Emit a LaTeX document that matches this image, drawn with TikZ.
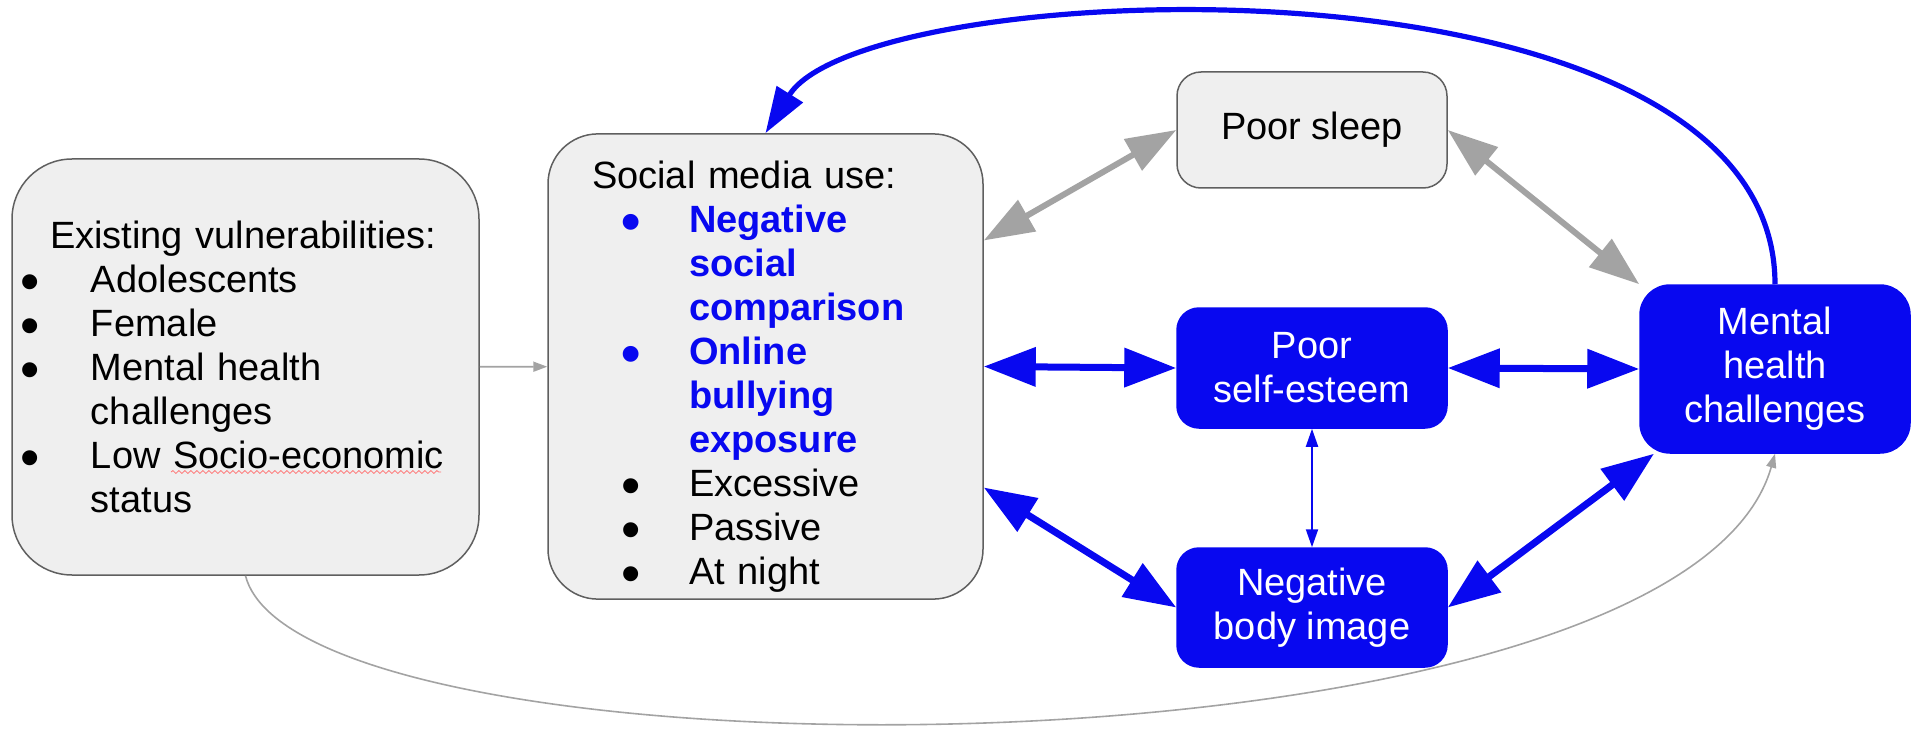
\documentclass[tikz,border=0pt]{standalone}
\usepackage{fontspec}
\usepackage{graphicx}
\setmainfont{Liberation Sans}
\usetikzlibrary{arrows.meta,decorations.pathmorphing}
\definecolor{boxgrey}{RGB}{239,239,239}
\definecolor{edgegrey}{RGB}{95,95,95}
\definecolor{arrowgrey}{RGB}{163,163,163}
\definecolor{linkblue}{RGB}{8,8,240}
\newcommand{\blt}[1]{\makebox[#1][l]{\smash{\raisebox{-4pt}{\scalebox{1.45}{\textbullet}}}}}
\newcommand{\hi}[1]{{\color{linkblue}\bfseries #1}}
\begin{document}
\begin{tikzpicture}[x=0.5pt,y=-0.5pt,
  every node/.style={font=\fontsize{19}{22}\selectfont},
  greybox/.style={draw=edgegrey, line width=0.75pt, fill=boxgrey},
  bluebox/.style={draw=linkblue, line width=0.75pt, fill=linkblue, text=white, align=center, minimum width=135pt},
  bluelink/.style={linkblue, line width=3.5pt, {Triangle[length=26pt,width=19pt]}-{Triangle[length=26pt,width=19pt]}},
  greylink/.style={arrowgrey, line width=3pt, {Triangle[length=25pt,width=17.5pt]}-{Triangle[length=25pt,width=17.5pt]}},
  thinblue/.style={linkblue, line width=1pt, {Triangle[length=9pt,width=6pt]}-{Triangle[length=9pt,width=6pt]}},
  thingrey/.style={arrowgrey, line width=0.8pt, -{Triangle[length=7pt,width=5pt]}},
  loopblue/.style={linkblue, line width=2.6pt, -{Triangle[length=23pt,width=15pt]}}]
\useasboundingbox (0,0) rectangle (1913,733);

\node[greybox, rounded corners=30pt, text width=218.5pt, inner xsep=7.5pt, minimum height=208pt, align=left] (vuln) at (245.5,367) {%
  \hspace*{11.5pt}Existing vulnerabilities:\\
  \hspace*{-3.5pt}\blt{35.5pt}Adolescents\\
  \hspace*{-3.5pt}\blt{35.5pt}Female\\
  \hspace*{-3.5pt}\blt{35.5pt}Mental health\\
  \hspace*{32pt}challenges\\
  \hspace*{-3.5pt}\blt{35.5pt}Low Socio-economic\\
  \hspace*{32pt}status};
\node[greybox, rounded corners=25pt, text width=173.5pt, inner xsep=22pt, minimum height=231.5pt, align=left] (media) at (765.5,366.5) {%
  \rule{0pt}{24pt}Social media use:\\
  \hspace*{14.5pt}\hi{\blt{34pt}Negative}\\
  \hspace*{48.5pt}\hi{social}\\
  \hspace*{48.5pt}\hi{comparison}\\
  \hspace*{14.5pt}\hi{\blt{34pt}Online}\\
  \hspace*{48.5pt}\hi{bullying}\\
  \hspace*{48.5pt}\hi{exposure}\\
  \hspace*{14.5pt}\blt{34pt}Excessive\\
  \hspace*{14.5pt}\blt{34pt}Passive\\
  \hspace*{14.5pt}\blt{34pt}At night};
\node[greybox, rounded corners=12pt, minimum width=135pt, minimum height=58pt] (sleep) at (1312,130) {Poor sleep};
\node[bluebox, rounded corners=11pt, minimum height=60pt] (esteem) at (1312,368) {Poor\\self-esteem};
\node[bluebox, rounded corners=11pt, minimum height=59.5pt] (body) at (1312,607.5) {Negative\\body image};
\node[bluebox, rounded corners=15pt, minimum height=84pt] (mental) at (1775,369) {Mental\\health\\challenges};

\draw[red!55, line width=0.4pt, decorate, decoration={snake, amplitude=0.7pt, segment length=3pt}] (171,472) -- (441,472);

\draw[thingrey] (vuln) -- (media);
\draw[greylink] (media.30) -- (sleep.west);
\draw[greylink] (sleep.east) -- (mental.north west);
\draw[bluelink] (media.east) -- (esteem.west);
\draw[bluelink] (esteem.east) -- (mental.west);
\draw[thinblue] (esteem) -- (body);
\draw[bluelink] (media.-29) -- (body.west);
\draw[bluelink] (body.east) -- (mental.-145);
\draw[loopblue] (mental.north) .. controls +(0,-345) and +(100,-160) .. (media.north);
\draw[thingrey] (vuln.south) .. controls +(55,215) and +(-95,335) .. (mental.south);
\end{tikzpicture}
\end{document}
